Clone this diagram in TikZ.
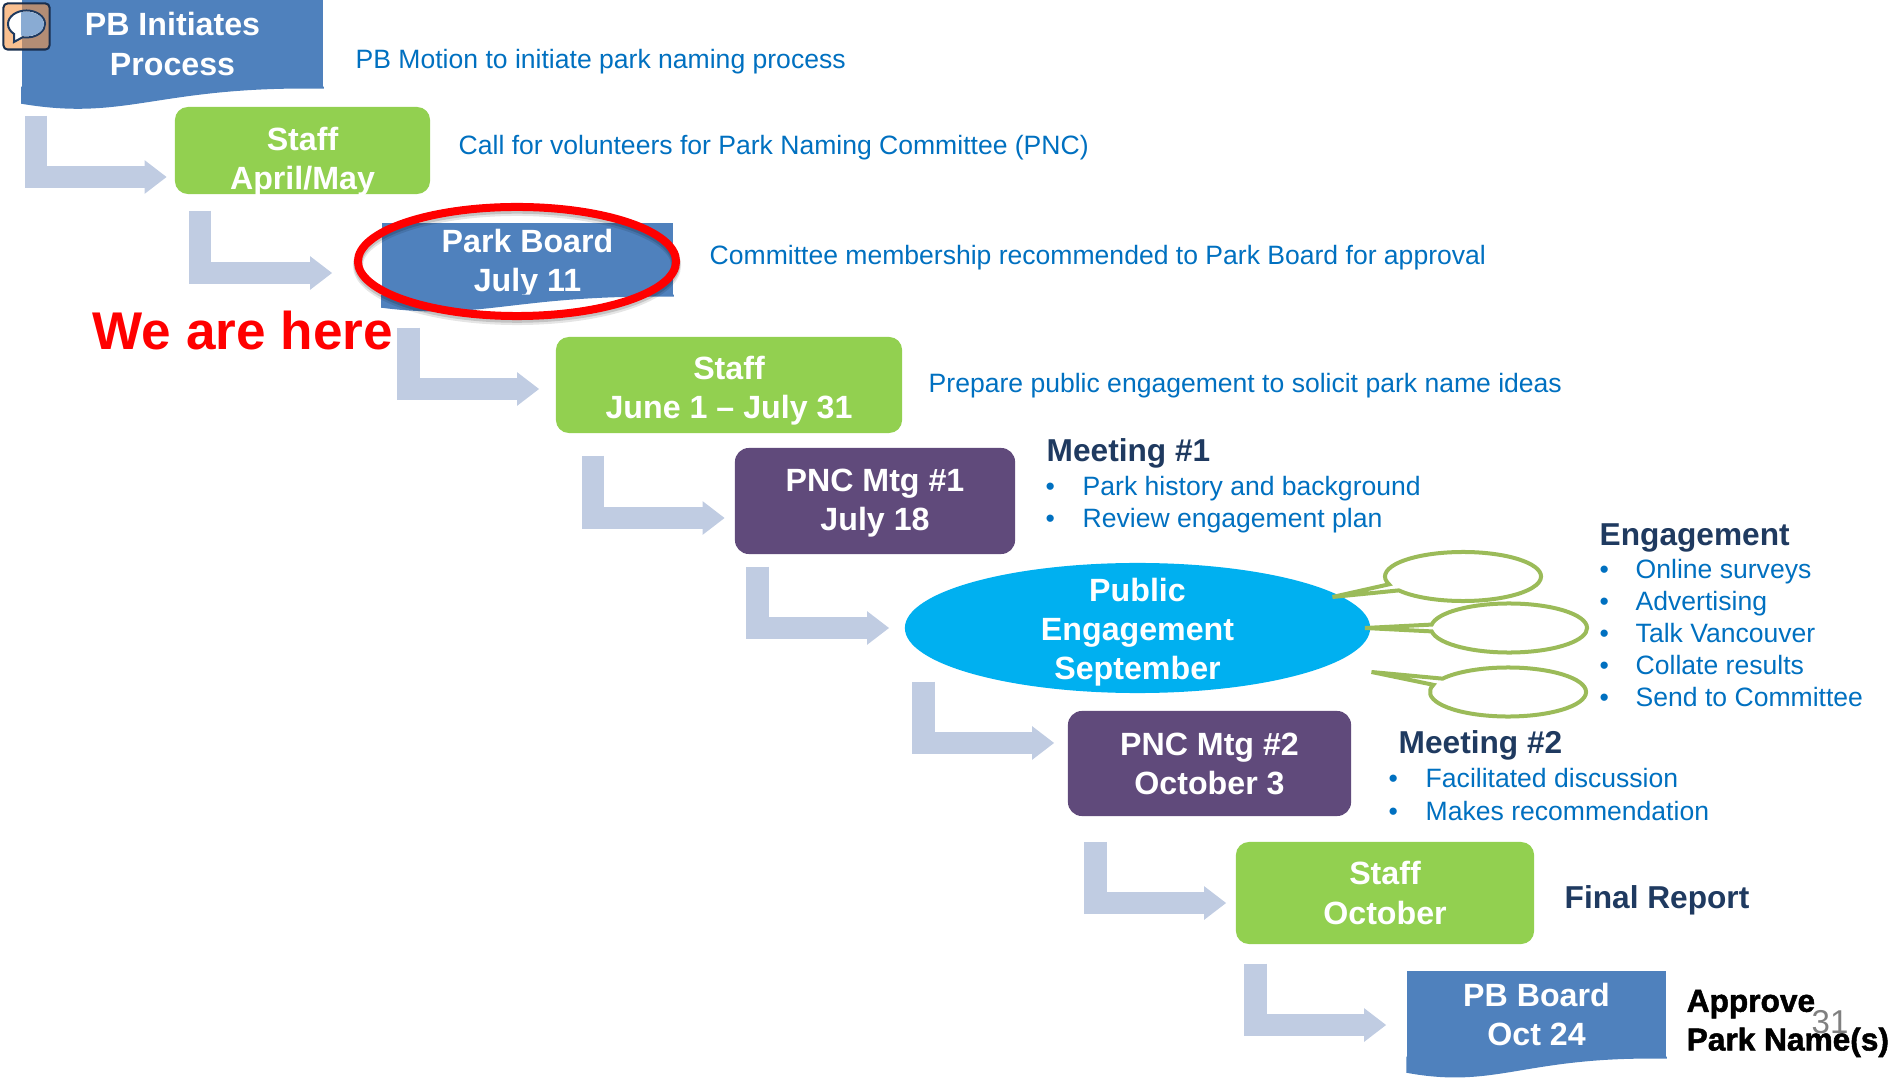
\documentclass[tikz,border=0pt]{standalone}
\usepackage{fontspec}
\setmainfont{Liberation Sans}
\newfontfamily\heavyfont[FakeBold=1.6]{Liberation Sans Bold}
\usetikzlibrary{arrows.meta, calc, shapes.geometric, shapes.callouts}

\definecolor{doc_blue}{HTML}{4F81BD}
\definecolor{staff_green}{HTML}{92D050}
\definecolor{pnc_purple}{HTML}{604A7B}
\definecolor{public_cyan}{HTML}{00B0F0}
\definecolor{arrow_blue}{HTML}{C0CCE2}
\definecolor{note_blue}{HTML}{0070C0}
\definecolor{head_navy}{HTML}{1F3A60}
\definecolor{bubble_green}{HTML}{9BBB59}
\definecolor{icon_orange}{HTML}{F79646}

% wavy lower edge of a document box
\newcommand{\docwave}[2]{
    \fill[doc_blue] ([yshift=0.2mm]#1.south west) -- ($(#1.south west)+(0,#2)$)
        .. controls ($(#1.south west)!0.35!(#1.south east)+(0,{2.2*#2})$) and ($(#1.south west)!0.45!(#1.south east)+(0,{-0.2*#2})$) .. (#1.south east)
        -- ([yshift=0.2mm]#1.south east) -- cycle;
}

\begin{document}
\begin{tikzpicture}[x=0.01cm, y=-0.01cm]
        \tikzset{
            box_text/.style={text=white, align=center, font=\bfseries\fontsize{9.15}{11.1}\selectfont},
            doc_box/.style={box_text, fill=doc_blue, inner sep=0},
            staff_box/.style={box_text, fill=staff_green, rounded corners=1.3mm, inner sep=0},
            pnc_box/.style={box_text, fill=pnc_purple, rounded corners=1.4mm, inner sep=0},
            note/.style={anchor=west, inner sep=0, text=note_blue, font=\fontsize{7.55}{9}\selectfont},
            head/.style={anchor=west, inner sep=0, text=head_navy, font=\bfseries\fontsize{9}{11}\selectfont},
            step_arrow/.style={draw=arrow_blue, line width=2.25mm, -{Triangle[width=3.2mm, length=2.2mm]}},
            talk_bubble/.style={ellipse callout, draw=bubble_green, line width=0.4mm, inner sep=0, minimum width=15.6mm, minimum height=4.9mm, callout pointer arc=16},
            }
        \useasboundingbox (0,0) rectangle (1901,1080);

        % process boxes
        \node[doc_box, minimum width=30.1mm, minimum height=8.8mm] (initiates) at (172.5,44) {PB Initiates\\Process};
        \node[staff_box, minimum width=25.5mm, minimum height=8.7mm, label={[box_text, name=staff_april_text, yshift=-1.1mm]center:{Staff\\April/May}}] (staff_april) at (302.5,150.5) {};
        \node[doc_box, minimum width=29.1mm, minimum height=7.3mm, label={[box_text, name=park_board_text, yshift=-0.4mm]center:{Park Board\\July 11}}] (park_board) at (527.5,259.5) {};
        \node[staff_box, minimum width=34.6mm, minimum height=9.6mm, label={[box_text, name=staff_june_text, yshift=-0.6mm]center:{Staff\\June 1 -- July 31}}] (staff_june) at (729,385) {};
        \node[pnc_box, minimum width=28mm, minimum height=10.6mm, label={[box_text, name=pnc_one_text, yshift=-0.2mm]center:{PNC Mtg \#1\\July 18}}] (pnc_one) at (875,501) {};
        \node[ellipse, fill=public_cyan, inner sep=0, minimum width=46.5mm, minimum height=13mm, label={[box_text, name=public_text, yshift=-0.4mm]center:{Public\\Engagement\\September}}] (public) at (1137.5,628) {};
        \node[pnc_box, minimum width=28.3mm, minimum height=10.5mm] (pnc_two) at (1209.5,763.5) {PNC Mtg \#2\\October 3};
        \node[staff_box, minimum width=29.8mm, minimum height=10.2mm] (staff_oct) at (1385,893) {Staff\\October};
        \node[doc_box, minimum width=25.9mm, minimum height=8.7mm] (pb_board) at (1536.5,1014.5) {PB Board\\Oct 24};

        % wavy edges
        \docwave{initiates}{15}
        \docwave{park_board}{11}
        \docwave{pb_board}{14}

        % arrows between the steps
        \draw[step_arrow] ([xshift=1.5mm, yshift=-2.7mm]initiates.south west) |- ([xshift=-0.75mm, yshift=-2.65mm]staff_april.west);
        \draw[step_arrow] ([xshift=2.6mm, yshift=-1.6mm]staff_april.south west) |- ([xshift=-4.9mm, yshift=-1.35mm]park_board.west);
        \draw[step_arrow] ([xshift=2.75mm, yshift=-3.1mm]park_board.south west) |- ([xshift=-1.6mm, yshift=-0.4mm]staff_june.west);
        \draw[step_arrow] ([xshift=3.8mm, yshift=-2.2mm]staff_june.south west) |- ([xshift=-0.95mm, yshift=-1.7mm]pnc_one.west);
        \draw[step_arrow] ([xshift=2.3mm, yshift=-1.2mm]pnc_one.south west) |- ([xshift=-1.5mm]public.west);
        \draw[step_arrow] ([xshift=-21.4mm, yshift=1.2mm]public.south) |- ([xshift=-1.3mm, yshift=2.05mm]pnc_two.west);
        \draw[step_arrow] ([xshift=2.8mm, yshift=-2.5mm]pnc_two.south west) |- ([xshift=-0.9mm, yshift=-1mm]staff_oct.west);
        \draw[step_arrow] ([xshift=2mm, yshift=-1.9mm]staff_oct.south west) |- ([xshift=-2mm, yshift=-1.05mm]pb_board.west);

        % comment icon
        \node[draw=head_navy!80!black, fill=icon_orange, fill opacity=0.6, line width=0.2mm, rounded corners=0.4mm, inner sep=0, minimum size=4.6mm] (icon) at (26.5,26.5) {};
        \node[ellipse callout, draw=head_navy, fill=white, line width=0.2mm, inner sep=0, minimum width=3.7mm, minimum height=2.7mm, callout absolute pointer={(14,42)}, callout pointer arc=30] (icon_bubble) at (26.5,24) {};
        \begin{scope}
            \clip (26.5,24) ellipse [x radius=17.6, y radius=12.2];
            \fill[doc_blue!67!white] (initiates.north west) rectangle (50,50);
        \end{scope}

        % ring round the current step
        \node[ellipse, draw=black, draw opacity=0.1, line width=1mm, inner sep=0, minimum width=31.8mm, minimum height=10.9mm] (ring_shadow_out) at (517,265.5) {};
        \node[ellipse, draw=black, draw opacity=0.15, line width=0.85mm, inner sep=0, minimum width=31.8mm, minimum height=10.9mm] (ring_shadow_in) at (517,264) {};
        \node[ellipse, draw=red, line width=0.8mm, inner sep=0, minimum width=31.8mm, minimum height=10.9mm] (ring) at (517,261.5) {};
        \node[anchor=west, inner sep=0, text=red, font=\bfseries\fontsize{15.1}{17}\selectfont] (we_are_here) at (92,331) {We are here};

        % notes next to the steps
        \node[note] (note_motion) at (355,62) {PB Motion to initiate park naming process};
        \node[note] (note_call) at (458,148) {Call for volunteers for Park Naming Committee (PNC)};
        \node[note] (note_committee) at (709,257.5) {Committee membership recommended to Park Board for approval};
        \node[note] (note_prepare) at (928,386) {Prepare public engagement to solicit park name ideas};

        % meeting 1
        \node[head] (meeting_one) at (1046,453.5) {Meeting \#1};
        \node[note] (history) at (1045,489) {\makebox[3.7mm][l]{\textbullet}Park history and background};
        \node[note] (review) at (1045,521) {\makebox[3.7mm][l]{\textbullet}Review engagement plan};

        % engagement
        \node[talk_bubble, callout absolute pointer={(1332.5,597)}] (bubble_top) at (1463,576.5) {};
        \node[talk_bubble, callout absolute pointer={(1365,628)}] (bubble_mid) at (1509,628) {};
        \node[talk_bubble, callout absolute pointer={(1371.5,672)}] (bubble_low) at (1508,692) {};
        \node[head] (engagement) at (1599,537.5) {Engagement};
        \node[note] (surveys) at (1599,571.5) {\makebox[3.6mm][l]{\textbullet}Online surveys};
        \node[note] (advertising) at (1599,604) {\makebox[3.6mm][l]{\textbullet}Advertising};
        \node[note] (talk_van) at (1599,633) {\makebox[3.6mm][l]{\textbullet}Talk Vancouver};
        \node[note] (collate) at (1599,665) {\makebox[3.6mm][l]{\textbullet}Collate results};
        \node[note] (send) at (1599,697) {\makebox[3.6mm][l]{\textbullet}Send to Committee};

        % meeting 2
        \node[head] (meeting_two) at (1398,745.5) {Meeting \#2};
        \node[note] (discussion) at (1388,778) {\makebox[3.7mm][l]{\textbullet}Facilitated discussion};
        \node[note] (recommend) at (1388,811) {\makebox[3.7mm][l]{\textbullet}Makes recommendation};

        % last steps
        \node[head] (final_report) at (1564,900.5) {Final Report};
        \node[inner sep=0, text=black!50, font=\fontsize{9.4}{11}\selectfont] (page_no) at (1830,1022) {31};
        \node[anchor=west, align=left, inner sep=0, text=black, font=\heavyfont\fontsize{9}{11}\selectfont] (approve) at (1686,1023.5) {Approve\\Park Name(s)};
    \end{tikzpicture}
\end{document}
